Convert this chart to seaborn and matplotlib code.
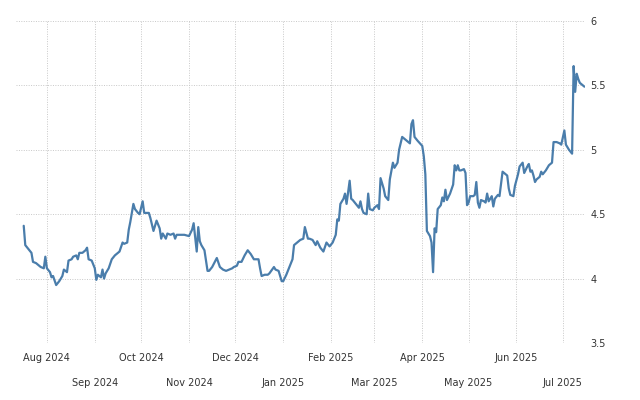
import pandas as pd
import seaborn as sns
import matplotlib.pyplot as plt
from matplotlib.ticker import FuncFormatter

# values
dates = [
    "2024-07-17", "2024-07-18", "2024-07-20", "2024-07-22", "2024-07-23", "2024-07-25", "2024-07-27", "2024-07-28",
    "2024-07-30", "2024-07-31",
    "2024-08-01", "2024-08-03", "2024-08-04", "2024-08-05", "2024-08-07", "2024-08-09", "2024-08-11", "2024-08-12",
    "2024-08-14", "2024-08-15", "2024-08-17", "2024-08-18", "2024-08-20", "2024-08-21", "2024-08-22", "2024-08-24",
    "2024-08-26", "2024-08-27", "2024-08-28", "2024-08-30",
    "2024-09-01", "2024-09-02", "2024-09-03", "2024-09-05", "2024-09-06", "2024-09-07", "2024-09-08", "2024-09-10",
    "2024-09-12", "2024-09-14", "2024-09-17", "2024-09-19", "2024-09-20", "2024-09-22", "2024-09-23", "2024-09-24",
    "2024-09-26", "2024-09-27", "2024-09-29", "2024-09-30",
    "2024-10-02", "2024-10-03", "2024-10-04", "2024-10-06", "2024-10-07", "2024-10-09", "2024-10-11", "2024-10-13",
    "2024-10-14", "2024-10-15", "2024-10-17", "2024-10-18", "2024-10-20", "2024-10-22", "2024-10-23", "2024-10-24",
    "2024-10-26", "2024-10-29",
    "2024-11-01", "2024-11-03", "2024-11-04", "2024-11-06", "2024-11-07", "2024-11-08", "2024-11-09", "2024-11-11",
    "2024-11-13", "2024-11-14", "2024-11-16", "2024-11-19", "2024-11-21", "2024-11-23", "2024-11-25", "2024-11-27",
    "2024-11-29", "2024-11-30",
    "2024-12-02", "2024-12-03", "2024-12-05", "2024-12-07", "2024-12-09", "2024-12-11", "2024-12-13", "2024-12-16",
    "2024-12-17", "2024-12-18", "2024-12-20", "2024-12-22", "2024-12-23", "2024-12-26", "2024-12-27", "2024-12-29",
    "2024-12-31",
    "2025-01-01", "2025-01-03", "2025-01-05", "2025-01-07", "2025-01-08", "2025-01-10", "2025-01-12", "2025-01-14",
    "2025-01-15", "2025-01-17", "2025-01-18", "2025-01-20", "2025-01-22", "2025-01-23", "2025-01-25", "2025-01-27",
    "2025-01-29", "2025-01-31",
    "2025-02-02", "2025-02-04", "2025-02-05", "2025-02-06", "2025-02-07", "2025-02-09", "2025-02-10", "2025-02-11",
    "2025-02-13", "2025-02-14", "2025-02-15", "2025-02-17", "2025-02-19", "2025-02-20", "2025-02-21", "2025-02-22",
    "2025-02-24", "2025-02-25", "2025-02-26", "2025-02-28",
    "2025-03-01", "2025-03-03", "2025-03-04", "2025-03-05", "2025-03-07", "2025-03-08", "2025-03-10", "2025-03-11",
    "2025-03-13", "2025-03-14", "2025-03-16", "2025-03-17", "2025-03-19", "2025-03-21", "2025-03-23", "2025-03-24",
    "2025-03-25", "2025-03-26", "2025-03-27", "2025-03-29",
    "2025-04-01", "2025-04-02", "2025-04-03", "2025-04-04", "2025-04-06", "2025-04-07", "2025-04-08", "2025-04-09",
    "2025-04-10", "2025-04-11", "2025-04-13", "2025-04-14", "2025-04-15", "2025-04-16", "2025-04-17", "2025-04-19",
    "2025-04-21", "2025-04-22", "2025-04-23", "2025-04-24", "2025-04-25", "2025-04-26", "2025-04-28", "2025-04-29",
    "2025-04-30",
    "2025-05-01", "2025-05-02", "2025-05-04", "2025-05-05", "2025-05-06", "2025-05-07", "2025-05-08", "2025-05-09",
    "2025-05-11", "2025-05-12", "2025-05-13", "2025-05-14", "2025-05-16", "2025-05-17", "2025-05-18", "2025-05-20",
    "2025-05-21", "2025-05-23", "2025-05-24", "2025-05-26", "2025-05-27", "2025-05-28", "2025-05-30", "2025-05-31",
    "2025-06-02", "2025-06-03", "2025-06-05", "2025-06-06", "2025-06-08", "2025-06-09", "2025-06-10", "2025-06-11",
    "2025-06-12", "2025-06-13", "2025-06-14", "2025-06-16", "2025-06-17", "2025-06-18", "2025-06-20", "2025-06-22",
    "2025-06-24", "2025-06-25", "2025-06-27", "2025-06-29", "2025-06-30",
    "2025-07-02", "2025-07-03", "2025-07-05", "2025-07-07", "2025-07-08", "2025-07-09", "2025-07-10", "2025-07-11",
    "2025-07-12", "2025-07-13", "2025-07-14", "2025-07-15",
]
rates = [
    4.41, 4.26, 4.23, 4.20, 4.13, 4.12, 4.10, 4.09, 4.08, 4.17,
    4.08, 4.05, 4.01, 4.02, 3.95, 3.98, 4.02, 4.07, 4.05, 4.14, 4.15, 4.17, 4.18, 4.15, 4.20, 4.20,
    4.22, 4.24, 4.15, 4.14,
    4.08, 3.99, 4.03, 4.01, 4.07, 4.00, 4.04, 4.08, 4.15, 4.18, 4.21, 4.28, 4.27, 4.28, 4.38, 4.44,
    4.58, 4.54, 4.51, 4.50,
    4.60, 4.51, 4.51, 4.51, 4.47, 4.37, 4.45, 4.39, 4.31, 4.35, 4.31, 4.35, 4.34, 4.35, 4.31, 4.34,
    4.34, 4.34,
    4.33, 4.38, 4.43, 4.21, 4.40, 4.29, 4.26, 4.22, 4.06, 4.06, 4.09, 4.16, 4.09, 4.07, 4.06, 4.07,
    4.08, 4.09,
    4.10, 4.13, 4.13, 4.18, 4.22, 4.19, 4.15, 4.15, 4.08, 4.02, 4.03, 4.03, 4.04, 4.09, 4.07, 4.06,
    3.98,
    3.98, 4.03, 4.09, 4.15, 4.26, 4.28, 4.30, 4.31, 4.40, 4.31, 4.31, 4.30, 4.26, 4.29, 4.24, 4.21,
    4.28, 4.25,
    4.28, 4.34, 4.46, 4.45, 4.58, 4.62, 4.66, 4.58, 4.76, 4.62, 4.61, 4.58, 4.55, 4.60, 4.54, 4.51,
    4.50, 4.66, 4.54, 4.53,
    4.55, 4.57, 4.54, 4.78, 4.70, 4.64, 4.61, 4.77, 4.90, 4.86, 4.90, 5.00, 5.10, 5.08, 5.06, 5.05,
    5.20, 5.23, 5.10, 5.07,
    5.03, 4.95, 4.81, 4.37, 4.33, 4.28, 4.05, 4.39, 4.36, 4.54, 4.57, 4.63, 4.60, 4.69, 4.61, 4.66,
    4.73, 4.88, 4.84, 4.88, 4.84, 4.84, 4.85, 4.82, 4.57,
    4.59, 4.64, 4.64, 4.65, 4.75, 4.59, 4.55, 4.61, 4.60, 4.59, 4.66, 4.60, 4.64, 4.56, 4.62, 4.65,
    4.64, 4.83, 4.82, 4.80, 4.70, 4.65, 4.64, 4.72,
    4.81, 4.87, 4.90, 4.82, 4.87, 4.89, 4.83, 4.84, 4.80, 4.75, 4.77, 4.79, 4.83, 4.81, 4.84, 4.88,
    4.90, 5.06, 5.06, 5.05, 5.04,
    5.15, 5.04, 5.00, 4.97, 5.65, 5.45, 5.59, 5.55, 5.52, 5.51, 5.50, 5.49,
]
top_months = ["2024-08-01", "2024-10-01", "2024-12-01", "2025-02-01", "2025-04-01", "2025-06-01"]
top_labels = ["Aug 2024", "Oct 2024", "Dec 2024", "Feb 2025", "Apr 2025", "Jun 2025"]
bottom_months = ["2024-09-01", "2024-11-01", "2025-01-01", "2025-03-01", "2025-05-01", "2025-07-01"]
bottom_labels = ["Sep 2024", "Nov 2024", "Jan 2025", "Mar 2025", "May 2025", "Jul 2025"]
yticks = [3.5, 4, 4.5, 5, 5.5, 6]

df = pd.DataFrame({"date": pd.to_datetime(dates), "rate": rates})

sns.set_style("white")
plt.rcParams["font.family"] = ["DejaVu Sans"]

fig = plt.figure(figsize=(6.4, 4), dpi=100)
ax = fig.add_axes([0.025, 0.1425, 0.889, 0.805])
sns.lineplot(data=df, x="date", y="rate", ax=ax, color="#4a7dab", linewidth=1.6)

ax.set_xlim(pd.Timestamp("2024-07-12"), pd.Timestamp("2025-07-15 08:00"))
ax.set_ylim(3.5, 6)
ax.set_yticks(yticks)
ax.yaxis.tick_right()
ax.yaxis.set_major_formatter(FuncFormatter(lambda v, p: f"{v:g}"))

ax.set_xticks(pd.to_datetime(top_months))
ax.set_xticklabels(top_labels)
ax.set_xticks(pd.to_datetime(bottom_months), minor=True)
ax.set_xticklabels(bottom_labels, minor=True)

ax.tick_params(axis="x", which="both", length=5, color="#cccccc", labelsize=7, labelcolor="#333333")
ax.tick_params(axis="x", which="major", pad=2.5)
ax.tick_params(axis="x", which="minor", pad=20.5)
ax.tick_params(axis="y", length=0, pad=4, labelsize=7, labelcolor="#333333")
ax.grid(True, which="both", linestyle=(0, (1, 1.5)), color="#c8c8c8", linewidth=0.7)
for s in ax.spines.values():
    s.set_visible(False)
ax.set_xlabel("")
ax.set_ylabel("")

fig.savefig("out.png", dpi=100)
